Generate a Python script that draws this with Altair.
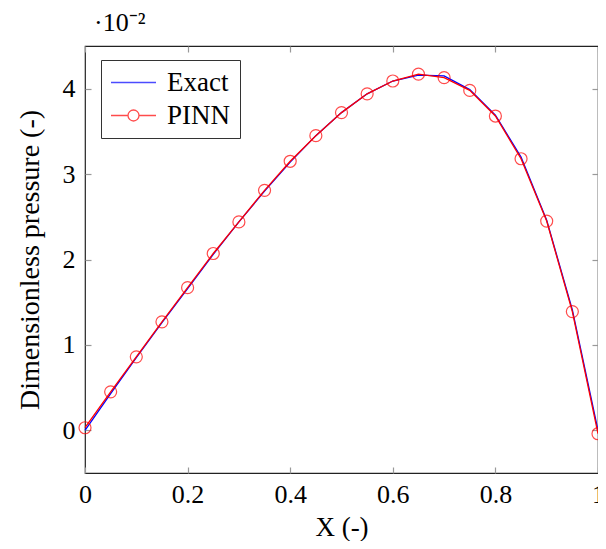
import altair as alt
import pandas as pd

# X positions (-)
x_vals = [0.0, 0.05, 0.1, 0.15, 0.2, 0.25, 0.3, 0.35, 0.4, 0.45, 0.5,
          0.55, 0.6, 0.65, 0.7, 0.75, 0.8, 0.85, 0.9, 0.95, 1.0]
# Dimensionless pressure, in units of 1e-2
exact_vals = [0.0, 0.43, 0.85, 1.26, 1.66, 2.06, 2.44, 2.80, 3.14, 3.45, 3.72,
              3.94, 4.09, 4.16, 4.15, 3.99, 3.69, 3.20, 2.46, 1.41, 0.0]
pinn_vals = [0.03, 0.45, 0.86, 1.27, 1.67, 2.07, 2.44, 2.81, 3.15, 3.45, 3.72,
             3.94, 4.09, 4.17, 4.13, 3.98, 3.68, 3.18, 2.45, 1.39, -0.04]
series_names = ["Exact", "PINN"]
series_colors = ["#0000ff", "#ff0000"]
x_ticks = [0, 0.2, 0.4, 0.6, 0.8, 1]
y_ticks = [0, 1, 2, 3, 4]

rows = []
for name, ys in zip(series_names, [exact_vals, pinn_vals]):
    for i, (xv, yv) in enumerate(zip(x_vals, ys)):
        rows.append({"x": xv, "y": yv, "series": name, "order": i})
df = pd.DataFrame(rows)
pinn_df = df[df["series"] == "PINN"]

FONT = "Liberation Serif"
FS = 26
xscale = alt.Scale(domain=[0, 1], nice=False, zero=False)
yscale = alt.Scale(domain=[-0.5, 4.5], nice=False, zero=False)
color_scale = alt.Scale(domain=series_names, range=series_colors)

# legend symbol paths (unit = 12.5 px with symbolSize 625)
EXACT_PATH = "M-1,0H2.6"
PINN_PATH = ("M-1,0H0.36M1.24,0H2.6M1.24,0A0.44,0.44,0,1,1,0.36,0"
             "A0.44,0.44,0,1,1,1.24,0")

LEGEND = dict(orient="none", legendX=16, legendY=14, title=None,
              labelFont=FONT, labelFontSize=27, labelColor="black",
              padding=9, strokeColor="#333333", fillColor="white",
              symbolSize=625, symbolStrokeWidth=1.3,
              labelOffset=30, rowPadding=5)

lines = alt.Chart(df).mark_line(strokeWidth=1.3).encode(
    x=alt.X("x:Q", scale=xscale,
            axis=alt.Axis(values=x_ticks, format="~g", offset=-6, tickSize=6,
                          domain=False, grid=False, labelPadding=8,
                          labelFlush=False, title="X (-)", titlePadding=7,
                          titleFontSize=27)),
    y=alt.Y("y:Q", scale=yscale,
            axis=alt.Axis(values=y_ticks, format="~g", offset=-6, tickSize=6,
                          domain=False, grid=False, labelPadding=10,
                          labelFlush=False, title="Dimensionless pressure (-)",
                          titlePadding=18, titleFontSize=28)),
    color=alt.Color("series:N", scale=color_scale, legend=alt.Legend(**LEGEND)),
    order="order:Q",
)

points = alt.Chart(pinn_df).mark_point(shape="circle", filled=False, size=144,
                                       strokeWidth=1.2, color="#ff0000").encode(
    x=alt.X("x:Q", scale=xscale,
            axis=alt.Axis(orient="top", values=x_ticks, offset=-6, tickSize=6,
                          domain=False, grid=False, labels=False, title=None,
                          minExtent=0, maxExtent=6)),
    y=alt.Y("y:Q", scale=yscale,
            axis=alt.Axis(orient="right", values=y_ticks, offset=-6, tickSize=6,
                          domain=False, grid=False, labels=False, title=None,
                          minExtent=0, maxExtent=6)),
)

# empty layer carrying the legend symbols (line, and line with circle)
legend_layer = alt.Chart(df).transform_filter("datum.x > 5").mark_point(
    filled=False).encode(
    x=alt.X("x:Q", scale=xscale, axis=None),
    y=alt.Y("y:Q", scale=yscale, axis=None),
    color=alt.Color("series:N", scale=color_scale, legend=alt.Legend(**LEGEND)),
    shape=alt.Shape("series:N",
                    scale=alt.Scale(domain=series_names,
                                    range=[EXACT_PATH, PINN_PATH]),
                    legend=alt.Legend(**LEGEND)),
)

chart = alt.layer(lines, points, legend_layer).resolve_axis(
    x="independent", y="independent"
).properties(
    width=513, height=427,
    autosize=alt.AutoSizeParams(type="none"),
    padding={"left": 77, "top": 38, "right": 0, "bottom": 68},
    title=alt.Title("·10⁻²", anchor="start", frame="group", dx=9, offset=-12,
                    baseline="alphabetic", font=FONT, fontSize=26,
                    fontWeight="normal", color="black"),
).configure_view(
    stroke="#222222", strokeWidth=1.2
).configure_axis(
    labelFont=FONT, titleFont=FONT, labelFontSize=FS, titleFontSize=FS,
    labelColor="black", titleColor="black", titleFontWeight="normal",
    tickColor="#999999", tickWidth=1.2,
)

chart.save("out.html", embed_options={"renderer": "svg", "actions": False})
